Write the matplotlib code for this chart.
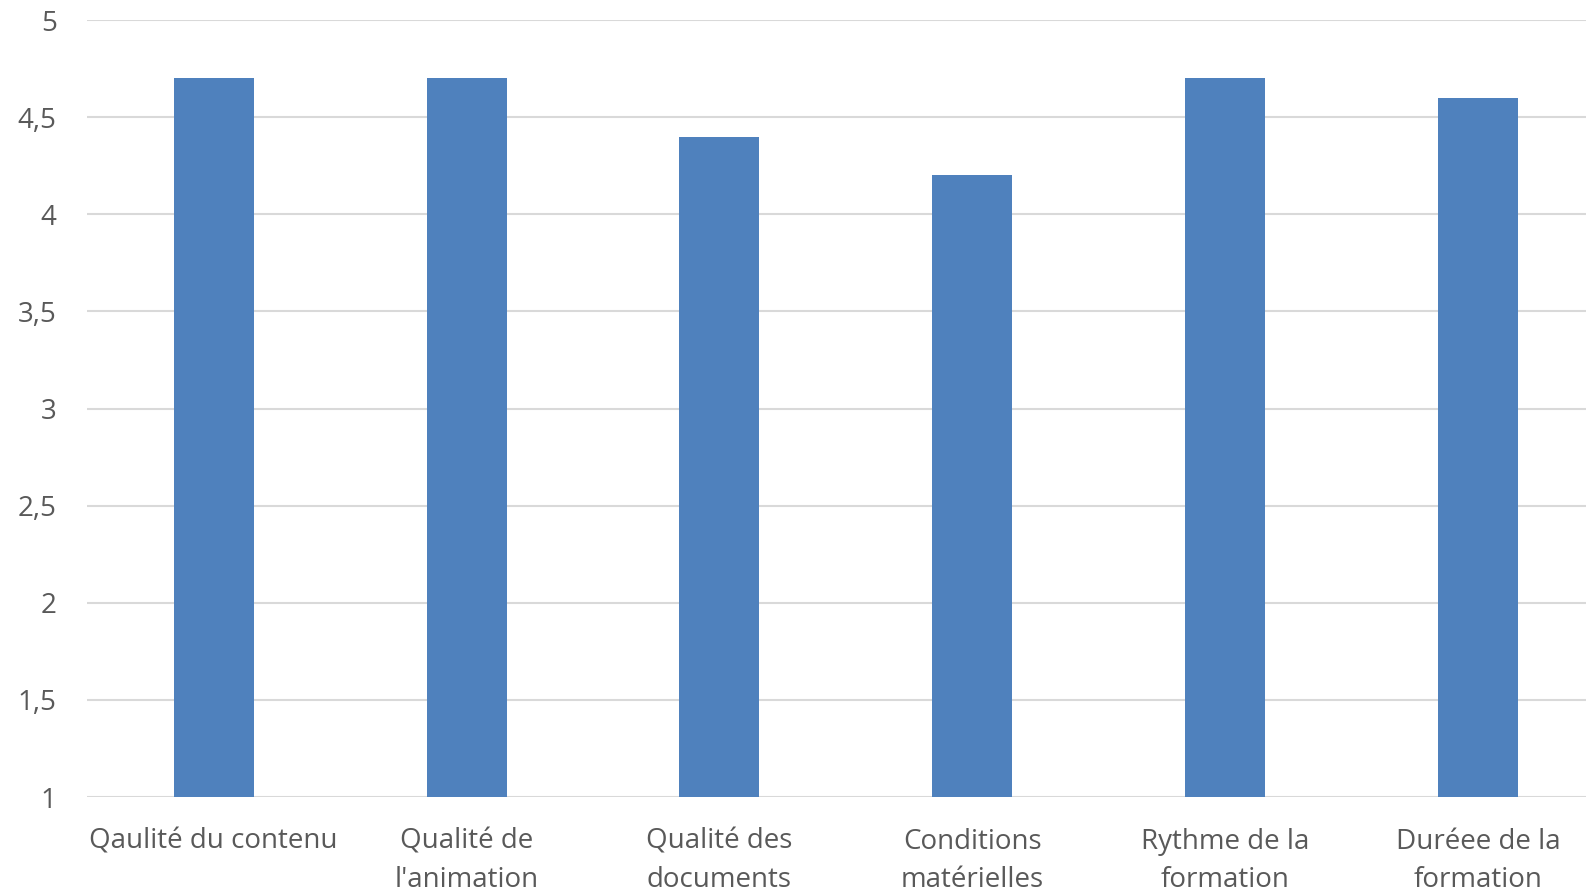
import matplotlib.pyplot as plt
from matplotlib.ticker import FuncFormatter, MultipleLocator

categories = ['Qaulité du contenu', "Qualité de\nl'animation", 'Qualité des\ndocuments',
              'Conditions\nmatérielles', 'Rythme de la\nformation', 'Duréee de la\nformation']
scores = [4.7, 4.7, 4.4, 4.2, 4.7, 4.6]

plt.rcParams['font.family'] = ['Open Sans', 'DejaVu Sans']

fig = plt.figure(figsize=(15.86, 8.93), dpi=100)
# the plot area runs slightly past the right edge of the picture
ax = fig.add_axes([0.0550, 0.1075, 0.9567, 0.870])

x = range(len(categories))
ax.bar(x, scores, width=0.316, color='#4F81BD', zorder=3)
ax.set_xlim(-0.5, len(categories) - 0.5)
ax.set_ylim(1, 5)
ax.yaxis.set_major_locator(MultipleLocator(0.5))
ax.yaxis.set_major_formatter(FuncFormatter(lambda v, p: f'{v:g}'.replace('.', ',')))
ax.grid(axis='y', color='#D9D9D9', linewidth=1.5, zorder=0)
for s in ax.spines.values():
    s.set_visible(False)
ax.set_xticks(list(x))
ax.set_xticklabels(categories, linespacing=1.5)
ax.tick_params(axis='both', length=0, labelsize=20, labelcolor='#595959')
ax.tick_params(axis='x', pad=22)
ax.tick_params(axis='y', pad=22)

fig.savefig('out.png', dpi=100)
